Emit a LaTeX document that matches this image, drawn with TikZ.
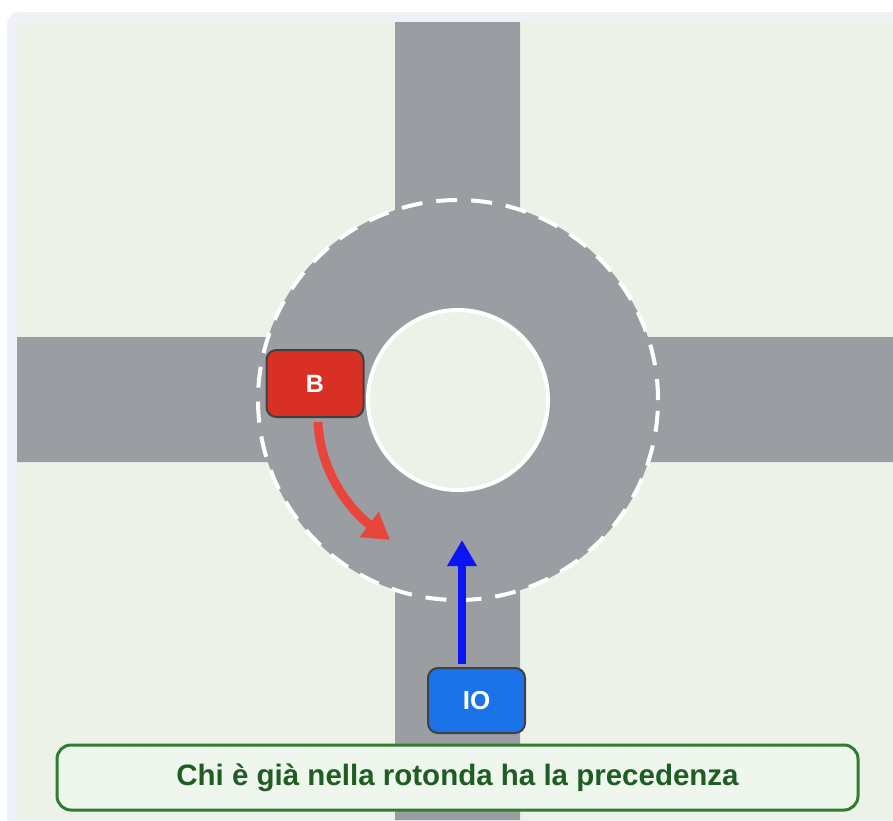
\documentclass[tikz,border=0pt]{standalone}
\usepackage{fontspec}
\setmainfont{Liberation Sans}
\usetikzlibrary{arrows.meta}
\definecolor{framegray}{HTML}{EEF1F6}
\definecolor{grass}{HTML}{EDF2E9}
\definecolor{road}{HTML}{9A9EA3}
\definecolor{carred}{HTML}{D93025}
\definecolor{arrowred}{HTML}{E8453C}
\definecolor{carblue}{HTML}{1A73E8}
\definecolor{arrowblue}{HTML}{0A14F5}
\definecolor{capgreen}{HTML}{2E7D32}
\definecolor{captext}{HTML}{1E5E22}
\definecolor{capfill}{HTML}{EEF6EE}
\begin{document}
\begin{tikzpicture}[x=1pt,y=-1pt]
    \tikzstyle{car}=[rectangle, rounded corners=10pt, draw=black!75, line width=2pt,
                     minimum width=97pt, minimum height=67pt, text=white,
                     font=\bfseries\fontsize{25}{25}\selectfont]
    \tikzstyle{caption}=[rectangle, rounded corners=14pt, draw=capgreen, line width=3pt,
                         fill=capfill, minimum width=801pt, minimum height=65pt,
                         text=captext, font=\bfseries\fontsize{29.5}{29.5}\selectfont]
    \useasboundingbox (0,0) rectangle (893,820);
    \fill[white] (0,0) rectangle (893,820);
    \fill[framegray, rounded corners=12pt] (7,12) rectangle (910,840);
    \fill[grass] (17,22) rectangle (893,820);
    \fill[road] (395,22) rectangle (520,820)
                (17,337) rectangle (893,462);
    \fill[road] (458,400) circle (200pt);
    \draw[white, line width=4pt, dash pattern=on 21pt off 14pt] (458,400) circle (200pt);
    \filldraw[fill=grass, draw=white, line width=4pt] (458,400) circle (90pt);
    \node[car, fill=carred] (B) at (315,383.5) {B};
    \node[car, fill=carblue, minimum height=65pt, font=\bfseries\fontsize{26}{26}\selectfont] (IO) at (476.5,700.5) {IO};
    \coordinate (Bend) at (390,540);
    \coordinate (IOend) at (462,540);
    \draw[arrowred, line width=9pt, -{Triangle[length=26pt,width=30pt]}]
        ([xshift=3pt,yshift=-4pt]B.south) .. controls +(2,50) and +(-40,-30) .. (Bend);
    \draw[arrowblue, line width=8pt, -{Triangle[length=26pt,width=28pt]}]
        ([xshift=-14.5pt,yshift=3pt]IO.north) -- (IOend);
    \node[caption] (cap) at (457.5,777.5) {Chi è già nella rotonda ha la precedenza};
\end{tikzpicture}
\end{document}
